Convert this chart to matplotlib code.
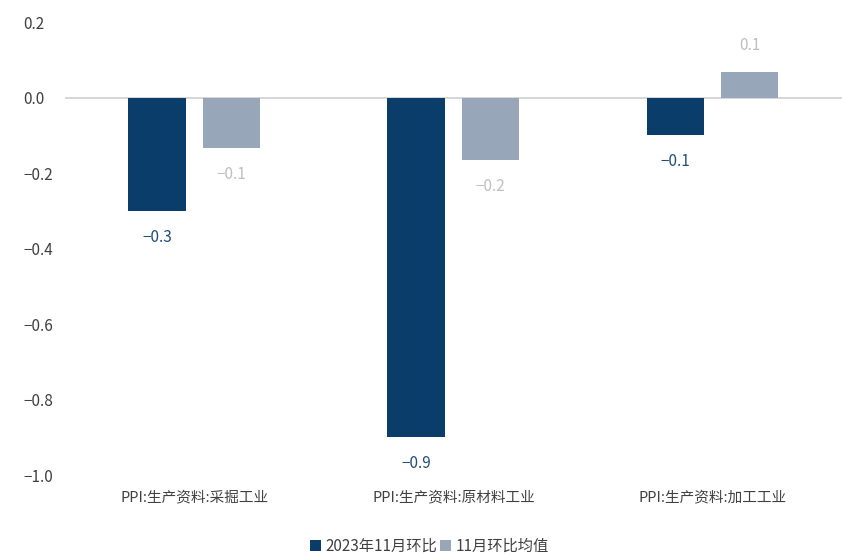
import matplotlib.pyplot as plt
import numpy as np

plt.rcParams["font.family"] = ["Noto Sans CJK SC", "DejaVu Sans"]

categories = ["PPI:生产资料:采掘工业", "PPI:生产资料:原材料工业", "PPI:生产资料:加工工业"]
series_names = ["2023年11月环比", "11月环比均值"]
nov_2023 = [-0.3, -0.9, -0.1]
nov_avg = [-0.133, -0.166, 0.068]
yticks = [-1.0, -0.8, -0.6, -0.4, -0.2, 0.0, 0.2]

dark = "#0b3d6b"
grey = "#97a6b8"


def fmt(v):
    return f"{v:.1f}".replace("-", "−")


fig = plt.figure(figsize=(8.42, 5.55), dpi=100)
ax = fig.add_axes([0.077, 0.144, 0.923, 0.816])

x = np.arange(len(categories))
w = 0.223
off = 0.143
b1 = ax.bar(x - off, nov_2023, w, color=dark, label=series_names[0])
b2 = ax.bar(x + off, nov_avg, w, color=grey, label=series_names[1])

for bars, vals, c in [(b1, nov_2023, "#1f4e79"), (b2, nov_avg, "#bfbfbf")]:
    for rect, v in zip(bars, vals):
        ax.annotate(fmt(v), (rect.get_x() + w / 2, v),
                    xytext=(0, -13 if v < 0 else 13), textcoords="offset points",
                    ha="center", va="top" if v < 0 else "bottom",
                    fontsize=11, color=c)

ax.set_xlim(-0.5, 2.5)
ax.set_ylim(-1.0, 0.2)
ax.set_yticks(yticks)
ax.set_yticklabels([fmt(t) for t in yticks])
ax.set_xticks(x)
ax.set_xticklabels(categories)
ax.axhline(0, color="#d0d0d0", lw=1.2, zorder=0)

for s in ax.spines.values():
    s.set_visible(False)
ax.tick_params(axis="both", length=0, labelsize=11, colors="#404040")
ax.tick_params(axis="x", pad=11, labelsize=10.5)
ax.tick_params(axis="y", pad=30)
for lab in ax.get_yticklabels():
    lab.set_horizontalalignment("left")

fig.legend(loc="lower center", ncol=2, frameon=False, fontsize=11,
           handlelength=0.7, handleheight=0.7, handletextpad=0.3,
           columnspacing=0.2, bbox_to_anchor=(0.51, -0.025),
           labelcolor="#404040")

fig.savefig("out.png", dpi=100)
